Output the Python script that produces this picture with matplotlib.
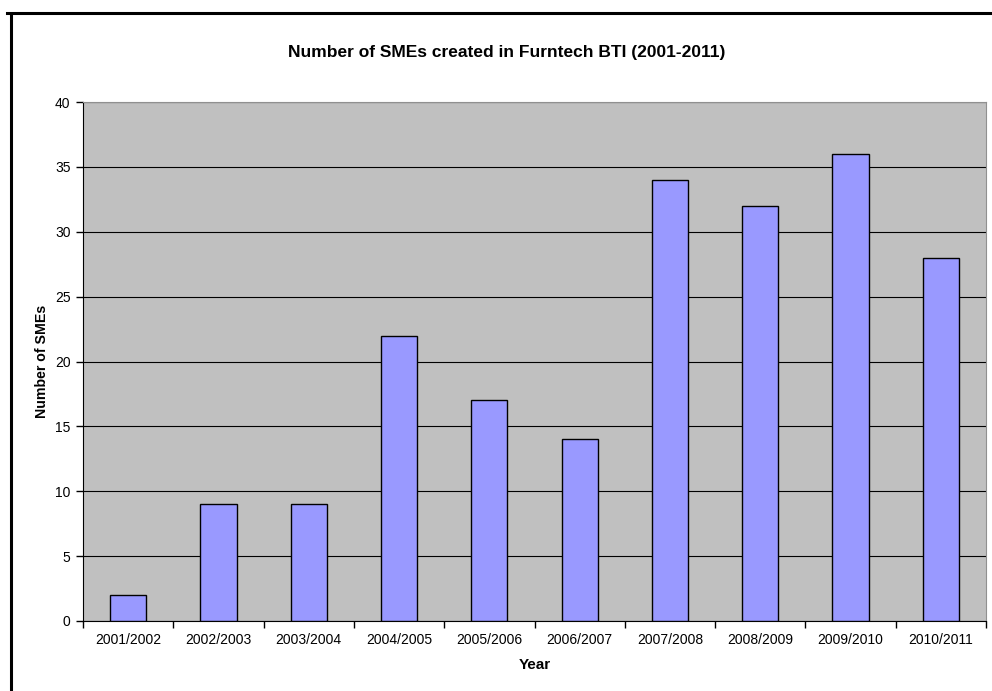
import numpy as np
import matplotlib
matplotlib.use('Agg')
import matplotlib.pyplot as plt
from matplotlib.lines import Line2D

# data
years = ['2001/2002', '2002/2003', '2003/2004', '2004/2005', '2005/2006',
         '2006/2007', '2007/2008', '2008/2009', '2009/2010', '2010/2011']
smes = [2, 9, 9, 22, 17, 14, 34, 32, 36, 28]

plt.rcParams['font.family'] = ['Liberation Sans', 'DejaVu Sans']

fig = plt.figure(figsize=(9.92, 6.91), dpi=100)
ax = fig.add_axes([83 / 992, 1 - 621 / 691, (986 - 83) / 992, (621 - 102) / 691])

x = np.arange(len(years))
ax.bar(x, smes, width=0.4, color='#9999FF', edgecolor='black', linewidth=1.0, zorder=3)

ax.set_facecolor('#C0C0C0')
ax.set_xlim(-0.5, len(years) - 0.5)
ax.set_ylim(0, 40)
ax.set_yticks(range(0, 41, 5))
ax.yaxis.grid(True, color='black', linewidth=0.8, zorder=1)
ax.set_axisbelow(True)

# category ticks on boundaries, labels centered
ax.set_xticks(np.arange(-0.5, len(years) + 0.5, 1.0))
ax.set_xticklabels([])
ax.set_xticks(x, minor=True)
ax.set_xticklabels(years, minor=True, fontsize=10)
ax.tick_params(axis='x', which='minor', length=0, pad=9)
ax.tick_params(axis='x', which='major', length=5, direction='out', width=1)
ax.tick_params(axis='y', length=5, direction='out', width=1, labelsize=10, pad=4)

for side in ['top', 'right']:
    ax.spines[side].set_color('#909090')
for side in ['left', 'bottom']:
    ax.spines[side].set_color('black')

ax.set_xlabel('Year', fontsize=11, fontweight='bold', va='center')
ax.xaxis.set_label_coords(0.5, (621 - 665) / 519)
ax.set_ylabel('Number of SMEs', fontsize=10.2, fontweight='bold', va='center')
ax.yaxis.set_label_coords((41.5 - 83) / 903, 0.5)
fig.text(507 / 992, 1 - 52 / 691, 'Number of SMEs created in Furntech BTI (2001-2011)',
         ha='center', va='center', fontsize=12.5, fontweight='bold')

# outer frame lines
fig.add_artist(Line2D([7 / 992, 1.0], [1 - 13 / 691, 1 - 13 / 691], color='black', linewidth=2.2))
fig.add_artist(Line2D([11 / 992, 11 / 992], [1 - 16 / 691, 0.0], color='black', linewidth=2.2))

fig.savefig('out.png', dpi=100)
